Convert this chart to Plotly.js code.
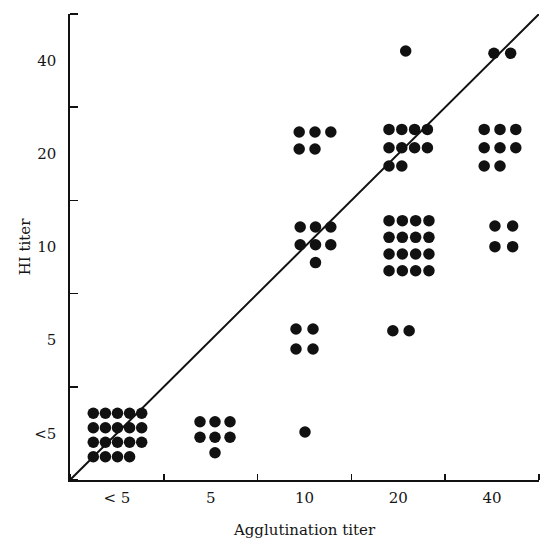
<!DOCTYPE html>
<html><head><meta charset="utf-8">
<script src="https://cdn.plot.ly/plotly-3.0.1.min.js"></script>
<style>html,body{margin:0;padding:0;background:#fff}#chart{width:550px;height:539px}</style>
</head><body><div id="chart"></div><script>
// ---- DATA ----
const categories = ['< 5', '5', '10', '20', '40'];
const yTickText = ['<5', '5', '10', '20', '40'];
// each group: agglutination titer (x) and HI titer (y) category, dots drawn as in the figure
const groupX = ['< 5', '5', '10', '10', '10', '10', '20', '20', '20', '20', '40', '40', '40'];
const groupY = ['< 5', '< 5', '< 5', '5', '10', '20', '5', '10', '20', '40', '10', '20', '40'];
const groupPattern = [
  ['xxxxx', 'xxxxx', 'xxxxx', 'xxxx.'],
  ['xxx', 'xxx', '.x.'],
  ['x'],
  ['xx', 'xx'],
  ['xxx', 'xxx', '.x.'],
  ['xxx', 'xx.'],
  ['xx'],
  ['xxxx', 'xxxx', 'xxxx', 'xxxx'],
  ['xxxx', 'xxxx', 'xx..'],
  ['x'],
  ['xx', 'xx'],
  ['xxx', 'xxx', 'xx.'],
  ['xx']
];
const diagonalX = [0, 5];
const diagonalY = [0, 5];

// ---- LAYOUT (pixel nudges / spacing of dot clusters) ----
const W = 550, H = 539, M = {l: 70, r: 11, t: 14, b: 59};
const groupNudge = [[0.6, 1.6], [4.3, 3.9], [0.5, -1.4], [0, -1.2], [11, -2.2], [10.5, -13.3],
  [2.7, -9.5], [10.7, -1.3], [9.9, -6.1], [7.4, -9.6], [11.7, -10.7], [7.9, -6.1], [10.2, -7.3]];
const groupSpacing = [[12.1, 14.5], [15, 15.5], [15, 15], [17, 20], [15.3, 17.8], [15.8, 17],
  [16.3, 16], [13.3, 16.7], [12.8, 18.3], [15, 15], [17.7, 20.7], [15.8, 18.3], [16.7, 16]];

const pxX = (W - M.l - M.r) / 5, pxY = (H - M.t - M.b) / 5;
const xs = [], ys = [];
groupX.forEach((cx, g) => {
  const ix = categories.indexOf(cx) + 0.5, iy = categories.indexOf(groupY[g]) + 0.5;
  const pat = groupPattern[g];
  const nr = pat.length, nc = pat[0].length;
  const [ox, oy] = groupNudge[g], [sx, sy] = groupSpacing[g];
  pat.forEach((row, r) => {
    for (let c = 0; c < row.length; c++) {
      if (row[c] !== 'x') continue;
      const px = ox + (c - (nc - 1) / 2) * sx;
      const py = oy + (r - (nr - 1) / 2) * sy;
      xs.push(ix + px / pxX);
      ys.push(iy - py / pxY);
    }
  });
});

const serif = 'DejaVu Serif, Liberation Serif, serif';
const ink = '#151515';
const traces = [
  {x: diagonalX, y: diagonalY, mode: 'lines', line: {color: '#111', width: 2}, hoverinfo: 'skip'},
  {x: xs, y: ys, mode: 'markers', marker: {color: '#111', size: 11.5, line: {width: 0}}}
];
const axisBase = {
  range: [0, 5], tickmode: 'array', tickvals: [0.5, 1.5, 2.5, 3.5, 4.5], ticktext: categories,
  ticks: '', showline: true, linecolor: '#111', linewidth: 1.6, showgrid: false, zeroline: false,
  tickfont: {family: serif, size: 15, color: ink}, fixedrange: true, automargin: false
};
const layout = {
  width: W, height: H, margin: M, showlegend: false,
  paper_bgcolor: '#fff', plot_bgcolor: '#fff',
  xaxis: Object.assign({}, axisBase, {
    ticklabelstandoff: 3,
    minor: {tick0: 0, dtick: 1, ticks: 'inside', ticklen: 6, tickwidth: 1.5, tickcolor: '#111', showgrid: false},
    title: {text: 'Agglutination titer', font: {family: serif, size: 15, color: ink}, standoff: 19}
  }),
  yaxis: Object.assign({}, axisBase, {
    ticktext: yTickText,
    ticklabelstandoff: 9,
    minor: {tick0: 0, dtick: 1, ticks: 'inside', ticklen: 8, tickwidth: 1.5, tickcolor: '#111', showgrid: false},
    title: {text: 'HI titer', font: {family: serif, size: 15, color: ink}, standoff: 0}
  })
};
Plotly.newPlot('chart', traces, layout, {displayModeBar: false, staticPlot: true});
</script></body></html>
